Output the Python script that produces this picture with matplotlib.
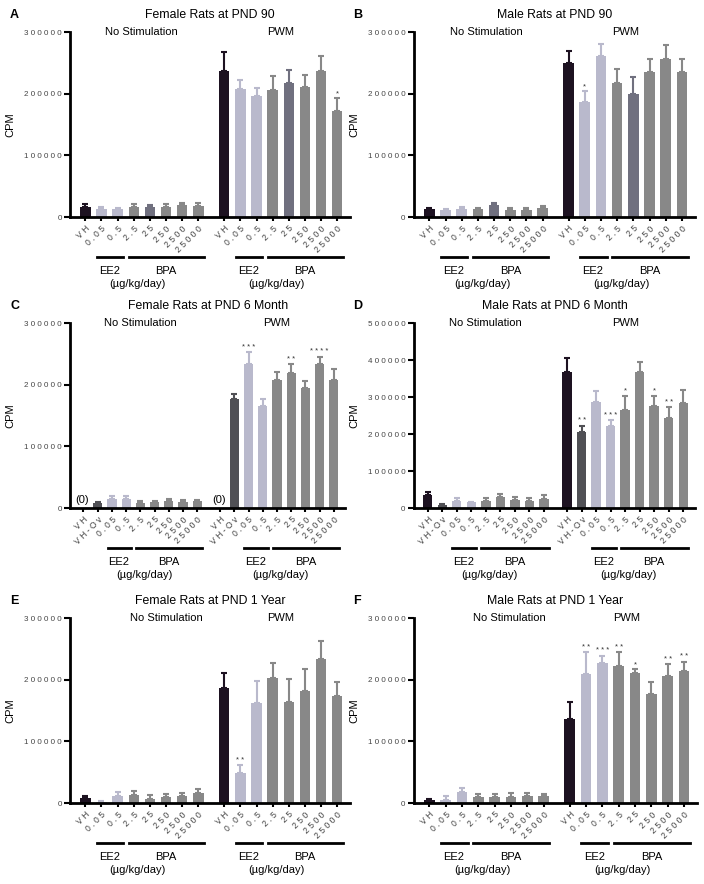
import matplotlib
matplotlib.use("Agg")
import matplotlib.pyplot as plt
import matplotlib.transforms as mtransforms
import numpy as np

plt.rcParams['font.family'] = ['Liberation Sans', 'DejaVu Sans']

# dose labels
doses_8 = ['VH', '0.05', '0.5', '2.5', '25', '250', '2500', '25000']
doses_9 = ['VH', 'VH-Ov', '0.05', '0.5', '2.5', '25', '250', '2500', '25000']

# colours
VH = '#1d1221'
EE2 = '#b9b9cc'
BPA = '#888888'
SLATE = '#70707f'
DARK = '#505055'
cols_ab = [VH, EE2, EE2, BPA, SLATE, BPA, BPA, BPA]
cols_cd = [VH, DARK, EE2, EE2, BPA, BPA, BPA, BPA, BPA]
cols_ef = [VH, EE2, EE2, BPA, BPA, BPA, BPA, BPA]

# A - female PND 90
a_ns_mean = [16000, 13500, 13000, 17000, 16000, 17000, 19500, 18000]
a_ns_sem = [5000, 2000, 2000, 4000, 3000, 3500, 4000, 4000]
a_pwm_mean = [236000, 207000, 196000, 206000, 218000, 210500, 237000, 171500]
a_pwm_sem = [31000, 15000, 13000, 23000, 20500, 20000, 24500, 21000]
a_sig = ['', '', '', '', '', '', '', '*']

# B - male PND 90
b_ns_mean = [12400, 11300, 13500, 12400, 19000, 12000, 12000, 14600]
b_ns_sem = [2500, 1800, 2500, 3000, 4500, 2000, 2000, 3000]
b_pwm_mean = [249700, 186000, 260500, 217800, 199000, 235000, 255700, 235000]
b_pwm_sem = [20300, 17800, 20000, 22200, 28000, 22000, 23800, 20700]
b_sig = ['', '*', '', '', '', '', '', '']

# C - female PND 6 month
c_ns_mean = [0, 8100, 14600, 14600, 8100, 9700, 11900, 9700, 11400]
c_ns_sem = [0, 1500, 4400, 4400, 2900, 2300, 2600, 3300, 2100]
c_pwm_mean = [0, 176300, 233000, 165400, 207600, 218400, 194100, 233500, 207600]
c_pwm_sem = [0, 8100, 19500, 11400, 13400, 15100, 11300, 11900, 17400]
c_sig = ['', '', '***', '', '', '**', '', '****', '']

# D - male PND 6 month
d_ns_mean = [35100, 7000, 19800, 15000, 18900, 30600, 21600, 18900, 25200]
d_ns_sem = [9000, 3000, 8000, 2500, 7100, 7200, 9000, 8900, 9900]
d_pwm_mean = [366700, 206200, 285600, 222400, 264900, 366700, 276500, 242400, 283000]
d_pwm_sem = [37900, 16200, 30600, 15400, 38600, 27100, 26200, 29800, 35900]
d_sig = ['', '**', '', '***', '*', '', '*', '**', '']

# E - female PND 1 year
e_ns_mean = [8100, 1600, 10800, 13500, 7000, 9200, 11900, 16200]
e_ns_sem = [3800, 900, 6500, 5400, 5400, 5400, 4900, 7000]
e_pwm_mean = [187000, 48200, 162600, 203200, 164300, 182100, 233000, 173500]
e_pwm_sem = [24300, 13400, 35700, 24300, 36800, 34700, 29700, 23200]
e_sig = ['', '**', '', '', '', '', '', '']

# F - male PND 1 year
f_ns_mean = [4900, 5400, 17800, 9700, 10300, 9700, 11900, 10800]
f_ns_sem = [2100, 5400, 6000, 4900, 4300, 6500, 4300, 4300]
f_pwm_mean = [136200, 209200, 226500, 222700, 210300, 176300, 206400, 214000]
f_pwm_sem = [27100, 35200, 12400, 21700, 6500, 19400, 18500, 15100]
f_sig = ['', '**', '***', '**', '*', '', '**', '**']


def spaced(s):
    return ' '.join(s)


def draw_panel(ax, letter, title, doses, cols, ns_mean, ns_sem, pwm_mean, pwm_sem,
               sig, ymax, zero_vh=False, ns_shift=0.0):
    n = len(doses)
    x_ns = np.arange(n)
    x_pwm = np.arange(n) + n + 0.6
    for xs, means, sems in [(x_ns, ns_mean, ns_sem), (x_pwm, pwm_mean, pwm_sem)]:
        ax.bar(xs, means, width=0.65, color=cols, zorder=2)
        for x, m, s, c in zip(xs, means, sems, cols):
            if m > 0:
                ax.errorbar(x, m, yerr=[[0], [s]], fmt='none', ecolor=c,
                            elinewidth=1.5, capsize=2.5, capthick=1.5, zorder=1)
    for x, m, s, t in zip(x_pwm, pwm_mean, pwm_sem, sig):
        if t:
            ax.annotate(spaced(t), (x, m + s), xytext=(0, 1), textcoords='offset points',
                        ha='center', va='bottom', fontsize=5.5, color='#333333')
    if zero_vh:
        for x in [x_ns[0], x_pwm[0]]:
            ax.annotate('(0)', (x, 0), xytext=(-1, 2), textcoords='offset points',
                        ha='center', va='bottom', fontsize=8)

    ax.set_xlim(-0.95, x_pwm[-1] + 0.8)
    ax.set_ylim(0, ymax)
    ax.set_yticks(np.arange(0, ymax + 1, 100000))
    ax.set_yticklabels([spaced(str(v)) for v in range(0, ymax + 1, 100000)],
                       fontsize=5.8, color='#444444')
    ax.set_xticks(np.concatenate([x_ns, x_pwm]))
    ax.set_xticklabels([spaced(d) for d in doses] * 2, rotation=45, ha='right',
                       va='top', rotation_mode='anchor', fontsize=6.2, color='#444444')
    for sp in ['top', 'right']:
        ax.spines[sp].set_visible(False)
    for sp in ['left', 'bottom']:
        ax.spines[sp].set_linewidth(2)
    ax.tick_params(axis='y', length=4, width=1.5, pad=2)
    ax.tick_params(axis='x', length=3, width=1.5, pad=2)
    ax.set_ylabel('CPM', fontsize=8, labelpad=6)

    trans = mtransforms.blended_transform_factory(ax.transData, ax.transAxes)
    i_ee2 = [j for j, d in enumerate(doses) if d in ('0.05', '0.5')]
    i_bpa = [j for j, d in enumerate(doses) if d in ('2.5', '25', '250', '2500', '25000')]
    for xs in [x_ns, x_pwm]:
        e0, e1 = xs[i_ee2[0]], xs[i_ee2[-1]]
        b0, b1 = xs[i_bpa[0]], xs[i_bpa[-1]]
        ax.plot([e0 - 0.3, e1 + 0.35], [-0.215, -0.215], color='black', lw=2,
                transform=trans, clip_on=False)
        ax.plot([b0 - 0.3, b1 + 0.35], [-0.215, -0.215], color='black', lw=2,
                transform=trans, clip_on=False)
        ec = (e0 + e1) / 2
        bc = (b0 + b1) / 2
        ax.text(ec, -0.29, 'EE2', transform=trans, ha='center', va='center', fontsize=8)
        ax.text(bc, -0.29, 'BPA', transform=trans, ha='center', va='center', fontsize=8)
        ax.text((ec + bc) / 2, -0.36, '(µg/kg/day)', transform=trans, ha='center',
                va='center', fontsize=8)

    ax.text((x_ns[0] + x_ns[-1]) / 2 + ns_shift, 1.0, 'No Stimulation', transform=trans,
            ha='center', va='center', fontsize=8)
    ax.text((x_pwm[0] + x_pwm[-1]) / 2, 1.0, 'PWM', transform=trans,
            ha='center', va='center', fontsize=8)
    ax.text(0.5, 1.09, title, transform=ax.transAxes, ha='center', va='center', fontsize=8.8)
    ax.text(-0.215, 1.09, letter, transform=ax.transAxes, ha='left', va='center',
            fontsize=9, fontweight='bold')


fig = plt.figure(figsize=(7.04, 8.84), dpi=100)
ax_a = fig.add_axes([0.0994, 0.7545, 0.398, 0.2093])
ax_b = fig.add_axes([0.588, 0.7545, 0.399, 0.2093])
ax_c = fig.add_axes([0.0994, 0.4253, 0.391, 0.2093])
ax_d = fig.add_axes([0.588, 0.4253, 0.399, 0.2093])
ax_e = fig.add_axes([0.0994, 0.0916, 0.398, 0.2093])
ax_f = fig.add_axes([0.588, 0.0916, 0.402, 0.2093])

draw_panel(ax_a, 'A', 'Female Rats at PND 90', doses_8, cols_ab,
           a_ns_mean, a_ns_sem, a_pwm_mean, a_pwm_sem, a_sig, 300000)
draw_panel(ax_b, 'B', 'Male Rats at PND 90', doses_8, cols_ab,
           b_ns_mean, b_ns_sem, b_pwm_mean, b_pwm_sem, b_sig, 300000)
draw_panel(ax_c, 'C', 'Female Rats at PND 6 Month', doses_9, cols_cd,
           c_ns_mean, c_ns_sem, c_pwm_mean, c_pwm_sem, c_sig, 300000, zero_vh=True)
draw_panel(ax_d, 'D', 'Male Rats at PND 6 Month', doses_9, cols_cd,
           d_ns_mean, d_ns_sem, d_pwm_mean, d_pwm_sem, d_sig, 500000)
draw_panel(ax_e, 'E', 'Female Rats at PND 1 Year', doses_8, cols_ef,
           e_ns_mean, e_ns_sem, e_pwm_mean, e_pwm_sem, e_sig, 300000, ns_shift=1.5)
draw_panel(ax_f, 'F', 'Male Rats at PND 1 Year', doses_8, cols_ef,
           f_ns_mean, f_ns_sem, f_pwm_mean, f_pwm_sem, f_sig, 300000, ns_shift=1.4)

fig.savefig('out.png', dpi=100)
